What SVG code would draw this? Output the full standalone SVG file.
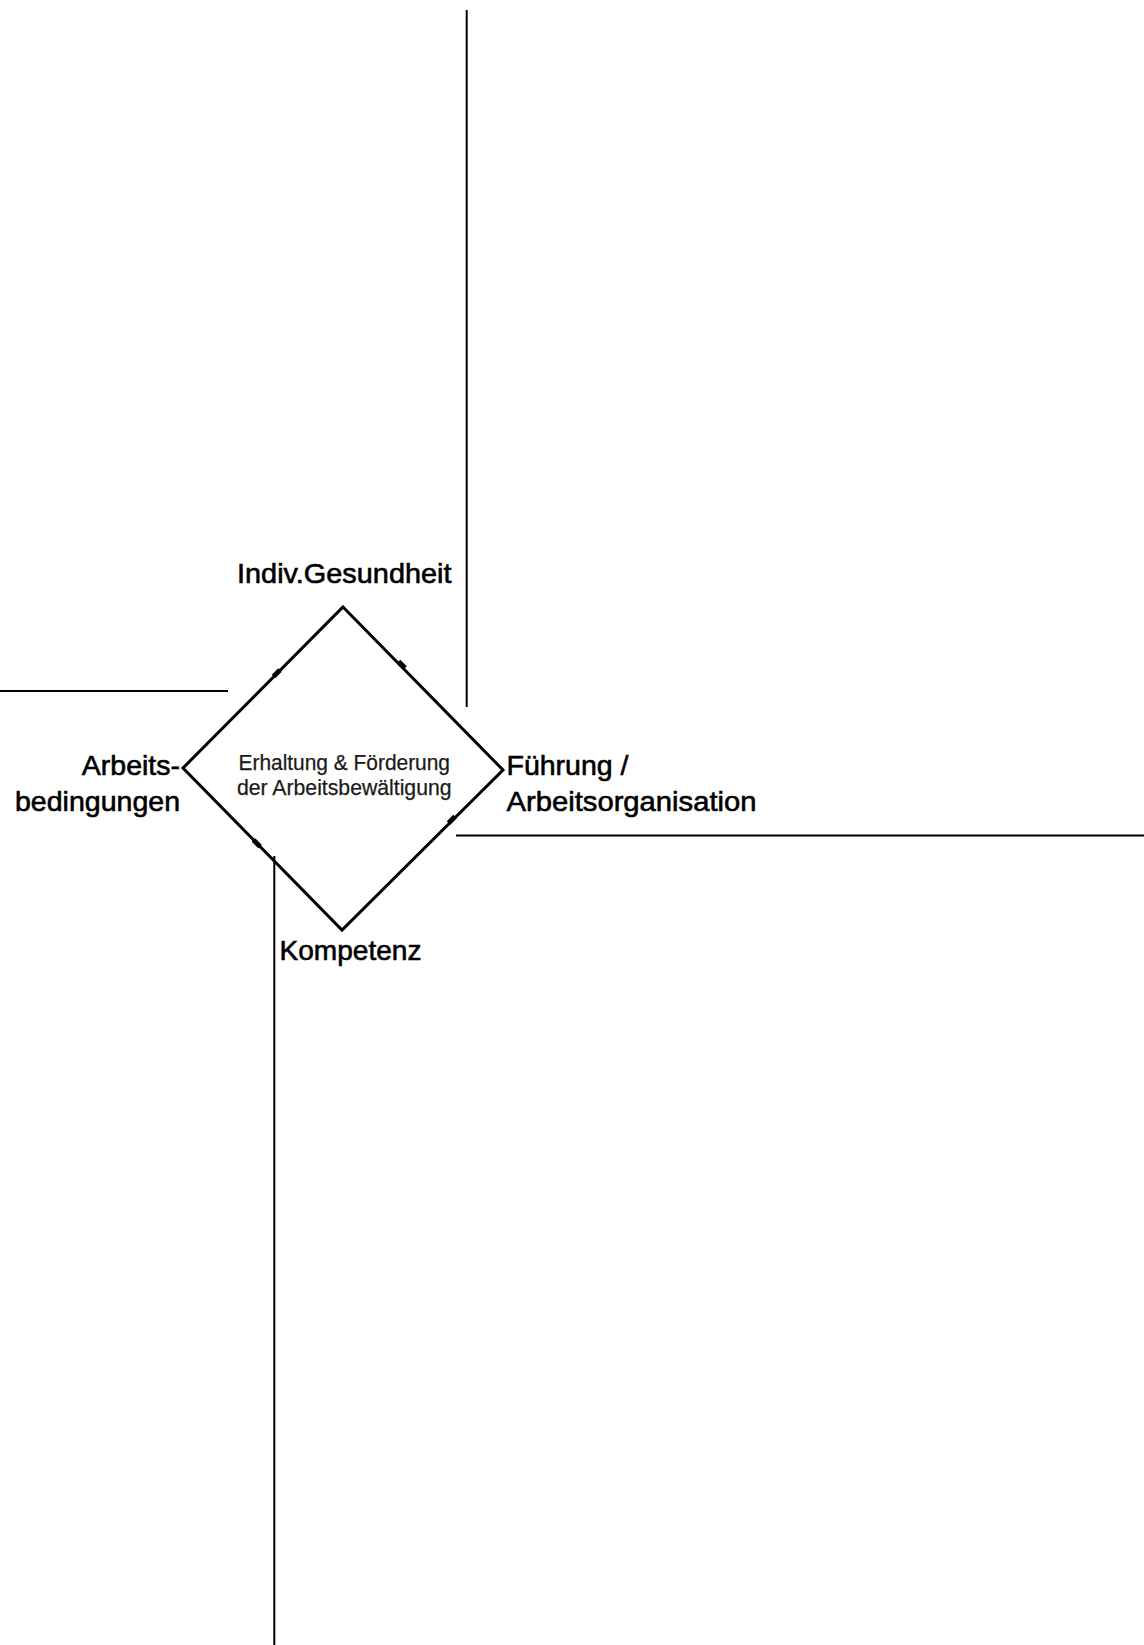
<svg xmlns="http://www.w3.org/2000/svg" width="1144" height="1645" viewBox="0 0 1144 1645">
<style>
.ln{stroke:#000;stroke-width:2;fill:none}
.dm{stroke:#000;stroke-width:3;fill:none;stroke-linejoin:miter}
.tk{stroke:#000;stroke-width:5;stroke-linecap:butt}
.lb{font-family:"Liberation Sans",Arial,sans-serif;font-size:28.5px;fill:#000;stroke:#000;stroke-width:0.6}
.ct{font-family:"Liberation Sans",Arial,sans-serif;font-size:21.5px;fill:#1a1a1a;stroke:#1a1a1a;stroke-width:0.25}
</style>
<rect width="1144" height="1645" fill="#fff"/>
<g id="connectors">
<line class="ln" x1="466.7" y1="10" x2="466.7" y2="707"/>
<line class="ln" x1="0" y1="691" x2="228" y2="691"/>
<line class="ln" x1="456" y1="835.5" x2="1144" y2="835.5"/>
<line class="ln" x1="274.3" y1="856" x2="274.3" y2="1645"/>
</g>
<g id="center">
<polygon class="dm" points="343,607 503,770 342,930 183,768"/>
<line class="tk" x1="273.5" y1="676.5" x2="280" y2="670"/>
<line class="tk" x1="398.5" y1="661.5" x2="405" y2="668"/>
<line class="tk" x1="253.5" y1="840" x2="260" y2="846.5"/>
<line class="tk" x1="448.5" y1="823" x2="455" y2="816.5"/>
<text class="ct" x="238.5" y="770" textLength="211.5" lengthAdjust="spacingAndGlyphs">Erhaltung &amp; Förderung</text>
<text class="ct" x="237" y="794.5" textLength="214.5" lengthAdjust="spacingAndGlyphs">der Arbeitsbewältigung</text>
</g>
<g id="top"><text class="lb" x="237" y="583" textLength="214.5" lengthAdjust="spacingAndGlyphs">Indiv.Gesundheit</text></g>
<g id="bottom"><text class="lb" x="279.5" y="960" textLength="142" lengthAdjust="spacingAndGlyphs">Kompetenz</text></g>
<g id="left">
<text class="lb" x="180" y="775" text-anchor="end">Arbeits-</text>
<text class="lb" x="15" y="811" textLength="165" lengthAdjust="spacingAndGlyphs">bedingungen</text>
</g>
<g id="right">
<text class="lb" x="506.5" y="775">Führung /</text>
<text class="lb" x="506.5" y="811" textLength="250" lengthAdjust="spacingAndGlyphs">Arbeitsorganisation</text>
</g>
</svg>
